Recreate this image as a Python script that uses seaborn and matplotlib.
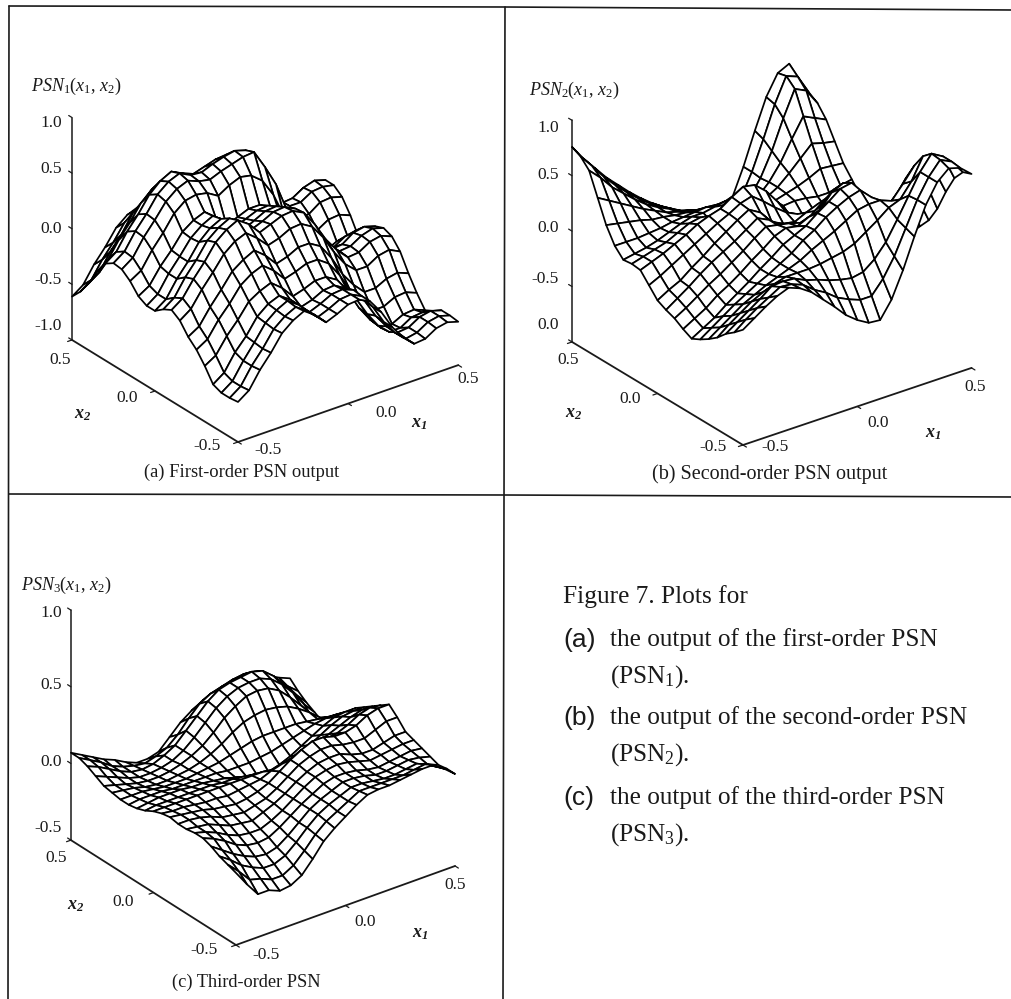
import numpy as np
import seaborn as sns
import matplotlib.pyplot as plt
from mpl_toolkits.mplot3d import proj3d

W, H = 1012, 999

# x1 runs along columns, x2 along rows, both -0.5 .. 0.5
grid = np.linspace(-0.5, 0.5, 21)

psn1 = [
 [-.64,-.57,-.42,-.30,-.16,-.08,-.03,-.10,-.20,-.16,-.11,-.10,-.15,-.28,-.45,-.58,-.67,-.66,-.60,-.58,-.61],
 [-.65,-.58,-.43,-.31,-.17,-.09,-.04,-.11,-.20,-.16,-.11,-.10,-.15,-.28,-.45,-.58,-.67,-.65,-.59,-.57,-.60],
 [-.65,-.58,-.43,-.30,-.16,-.08,-.03,-.10,-.20,-.16,-.11,-.10,-.14,-.27,-.44,-.57,-.66,-.65,-.59,-.57,-.60],
 [-.62,-.55,-.40,-.29,-.15,-.07,-.03,-.10,-.20,-.17,-.12,-.11,-.17,-.30,-.47,-.61,-.70,-.70,-.64,-.63,-.65],
 [-.50,-.44,-.30,-.19,-.06,.00,.04,-.04,-.15,-.12,-.08,-.08,-.14,-.28,-.46,-.60,-.71,-.71,-.66,-.65,-.69],
 [-.40,-.34,-.20,-.09,.04,.11,.15,.07,-.04,-.01,.03,.03,-.04,-.18,-.36,-.50,-.60,-.60,-.55,-.54,-.58],
 [-.33,-.27,-.13,-.01,.12,.19,.24,.16,.05,.08,.13,.13,.07,-.07,-.25,-.38,-.48,-.48,-.43,-.41,-.45],
 [-.23,-.16,-.02,.10,.23,.31,.35,.27,.17,.20,.25,.26,.20,.07,-.10,-.24,-.33,-.33,-.27,-.25,-.30],
 [-.18,-.11,.03,.15,.29,.37,.42,.35,.24,.28,.32,.33,.28,.14,-.03,-.16,-.26,-.25,-.19,-.17,-.21],
 [-.22,-.15,.00,.12,.26,.34,.39,.32,.22,.26,.31,.32,.27,.14,-.03,-.16,-.25,-.24,-.18,-.15,-.18],
 [-.28,-.21,-.06,.06,.20,.29,.34,.27,.17,.22,.27,.28,.23,.10,-.07,-.19,-.28,-.27,-.20,-.18,-.21],
 [-.28,-.21,-.06,.06,.19,.27,.32,.25,.15,.19,.23,.24,.18,.05,-.12,-.25,-.35,-.34,-.28,-.26,-.30],
 [-.24,-.18,-.04,.07,.20,.27,.31,.23,.12,.16,.20,.20,.14,.00,-.18,-.32,-.42,-.42,-.37,-.36,-.40],
 [-.15,-.09,.06,.18,.32,.40,.42,.40,.34,.40,.44,.42,.34,.18,-.05,-.19,-.28,-.28,-.22,-.21,-.25],
 [-.09,-.02,.13,.25,.38,.46,.50,.46,.44,.48,.51,.54,.55,.38,.19,-.08,-.18,-.18,-.11,-.10,-.13],
 [-.08,-.01,.14,.26,.40,.48,.52,.47,.46,.50,.53,.55,.52,.38,.18,-.03,-.12,-.12,-.06,-.05,-.07],
 [-.13,-.06,.09,.21,.35,.44,.49,.44,.40,.43,.46,.47,.42,.28,.08,-.05,-.14,-.13,-.07,-.04,-.07],
 [-.25,-.18,-.03,.09,.23,.32,.37,.30,.20,.24,.29,.30,.25,.12,-.05,-.18,-.26,-.25,-.19,-.17,-.20],
 [-.40,-.33,-.18,-.06,.09,.17,.22,.15,.05,.10,.15,.16,.11,-.02,-.19,-.32,-.41,-.40,-.33,-.31,-.34],
 [-.52,-.45,-.30,-.18,-.04,.04,.09,.02,-.08,-.04,.01,.02,-.03,-.16,-.33,-.46,-.55,-.54,-.48,-.45,-.48],
 [-.61,-.54,-.39,-.27,-.13,-.05,-.01,-.08,-.18,-.14,-.09,-.09,-.14,-.27,-.44,-.58,-.67,-.66,-.60,-.58,-.61],
]

psn2 = [
 [.04,.11,.18,.24,.28,.24,.17,.07,-.03,-.14,-.22,-.28,-.29,-.14,.09,.36,.61,.78,.87,.84,.75],
 [-.03,.05,.12,.18,.24,.23,.19,.11,.05,-.03,-.08,-.12,-.12,.00,.17,.39,.61,.78,.90,.85,.72],
 [-.09,-.02,.05,.12,.20,.21,.20,.15,.12,.08,.05,.03,.05,.13,.25,.42,.60,.78,.91,.85,.62],
 [-.17,-.09,-.02,.05,.10,.14,.17,.17,.17,.18,.20,.22,.26,.33,.40,.48,.52,.65,.84,.68,.45],
 [-.23,-.16,-.09,-.02,.03,.08,.12,.16,.20,.26,.31,.36,.42,.48,.50,.50,.46,.58,.71,.52,.25],
 [-.28,-.21,-.14,-.07,-.01,.05,.10,.16,.22,.30,.36,.44,.50,.55,.58,.48,.30,.35,.55,.34,.10],
 [-.32,-.26,-.20,-.12,-.05,.02,.10,.17,.25,.30,.35,.43,.50,.58,.60,.40,.15,.12,.37,.18,.00],
 [-.28,-.22,-.16,-.08,-.02,.05,.13,.20,.28,.32,.30,.35,.38,.50,.55,.42,.16,.10,.22,.05,-.10],
 [-.23,-.17,-.10,-.03,.03,.10,.17,.25,.32,.30,.28,.25,.22,.35,.45,.40,.25,.10,.05,-.05,-.16],
 [-.20,-.13,-.06,.02,.09,.15,.21,.28,.35,.30,.22,.17,.15,.24,.32,.28,.18,.03,-.06,-.13,-.20],
 [-.16,-.10,-.05,.03,.10,.18,.25,.32,.38,.32,.20,.15,.13,.18,.22,.20,.12,.00,-.10,-.17,-.22],
 [-.07,-.02,.04,.10,.16,.22,.28,.33,.39,.42,.34,.25,.17,.12,.09,.06,.02,-.07,-.15,-.18,-.20],
 [.02,.06,.10,.15,.20,.26,.30,.33,.40,.46,.44,.35,.22,.08,-.04,-.06,-.08,-.10,-.15,-.16,-.15],
 [.03,.06,.09,.12,.17,.22,.24,.16,.28,.34,.32,.22,.10,.00,-.05,-.06,-.06,-.06,-.08,-.07,-.05],
 [.02,.04,.06,.09,.13,.17,.20,.20,.22,.24,.20,.14,.07,.03,.02,.03,.02,.00,.00,.03,.05],
 [.10,.10,.10,.11,.12,.14,.15,.16,.17,.16,.13,.08,.04,.02,.02,.05,.08,.12,.17,.16,.15],
 [.24,.22,.20,.18,.15,.14,.12,.11,.10,.08,.05,.00,-.02,-.02,.00,.06,.15,.25,.35,.32,.30],
 [.44,.38,.32,.26,.20,.15,.10,.07,.05,.02,-.03,-.08,-.10,-.08,-.04,.06,.20,.38,.55,.50,.45],
 [.64,.54,.42,.33,.24,.16,.10,.05,.00,-.06,-.13,-.18,-.20,-.17,-.10,.05,.26,.52,.75,.70,.55],
 [.72,.60,.47,.36,.26,.17,.09,.03,-.03,-.12,-.20,-.25,-.27,-.23,-.15,.06,.32,.60,.82,.78,.60],
 [.76,.62,.50,.38,.28,.18,.09,.01,-.06,-.17,-.26,-.32,-.33,-.28,-.19,.06,.35,.62,.80,.85,.58],
]

psn3 = [
 [-.03,-.13,-.22,-.22,-.25,-.24,-.20,-.12,-.03,.03,.08,.13,.17,.18,.18,.19,.20,.21,.21,.16,.10],
 [-.01,-.08,-.16,-.18,-.21,-.21,-.17,-.10,-.02,.04,.08,.12,.16,.16,.16,.16,.16,.17,.18,.14,.10],
 [.01,-.04,-.10,-.14,-.17,-.17,-.14,-.08,-.01,.05,.09,.12,.15,.15,.14,.13,.13,.14,.15,.12,.09],
 [.04,-.01,-.06,-.10,-.13,-.14,-.12,-.07,-.01,.05,.09,.12,.15,.15,.14,.12,.12,.13,.14,.13,.11],
 [.06,.03,-.01,-.06,-.09,-.10,-.09,-.05,.00,.05,.09,.13,.15,.15,.14,.12,.11,.12,.13,.14,.13],
 [.06,.04,.01,-.03,-.06,-.07,-.07,-.04,.00,.05,.10,.14,.16,.17,.16,.14,.12,.13,.14,.15,.15],
 [.05,.04,.03,.00,-.03,-.04,-.05,-.02,.01,.05,.10,.14,.17,.18,.18,.15,.13,.13,.15,.17,.17],
 [.05,.05,.04,.02,-.01,-.02,-.03,-.01,.01,.05,.10,.15,.18,.20,.20,.18,.17,.17,.20,.23,.23],
 [.06,.05,.04,.03,.01,.00,-.01,.00,.02,.05,.10,.15,.19,.22,.22,.20,.20,.22,.26,.28,.28],
 [.05,.04,.04,.03,.02,.02,.01,.02,.03,.04,.07,.09,.11,.13,.14,.15,.16,.19,.23,.25,.24],
 [.03,.03,.03,.03,.03,.03,.03,.03,.03,.03,.03,.02,.02,.03,.05,.09,.12,.15,.18,.20,.20],
 [.00,.01,.01,.01,.01,.01,.01,.00,.00,-.01,-.02,-.04,-.04,-.03,.00,.04,.08,.12,.15,.16,.16],
 [-.02,-.01,.00,.00,.00,-.01,-.01,-.02,-.03,-.05,-.07,-.09,-.09,-.07,-.04,.00,.04,.08,.11,.12,.12],
 [-.03,-.02,-.02,-.02,-.03,-.03,-.03,-.03,-.03,-.04,-.04,-.04,-.03,-.02,.00,.02,.04,.06,.07,.07,.06],
 [-.03,-.03,-.03,-.04,-.05,-.05,-.05,-.04,-.03,-.02,.00,.02,.04,.05,.05,.05,.05,.04,.03,.02,.00],
 [-.02,-.03,-.04,-.06,-.07,-.07,-.06,-.05,-.03,.00,.04,.09,.13,.15,.16,.15,.13,.09,.04,-.02,-.06],
 [-.01,-.03,-.05,-.07,-.08,-.08,-.07,-.05,-.02,.02,.08,.15,.20,.24,.25,.24,.20,.13,.05,-.05,-.11],
 [.02,-.01,-.04,-.07,-.09,-.09,-.08,-.06,-.02,.04,.11,.18,.23,.26,.27,.27,.24,.18,.10,.00,-.08],
 [.05,.02,-.02,-.06,-.09,-.10,-.09,-.06,-.02,.05,.12,.19,.24,.26,.27,.28,.26,.20,.12,.03,-.05],
 [.07,.03,-.01,-.06,-.09,-.11,-.12,-.10,-.07,-.01,.07,.14,.18,.20,.22,.23,.22,.18,.12,.05,-.01],
 [.07,.03,-.01,-.05,-.08,-.12,-.15,-.15,-.13,-.06,.01,.06,.10,.12,.14,.15,.16,.14,.11,.07,.04],
]

z_ticks_a = [1.0, 0.5, 0.0, -0.5, -1.0]
z_labels_a = ["1.0", "0.5", "0.0", "-0.5", "-1.0"]
# the original really prints 0.0 at the bottom of panel b
z_labels_b = ["1.0", "0.5", "0.0", "-0.5", "0.0"]
z_ticks_c = [1.0, 0.5, 0.0, -0.5]
z_labels_c = ["1.0", "0.5", "0.0", "-0.5"]
captions = ["(a) First-order PSN output", "(b) Second-order PSN output", "(c) Third-order PSN"]

sns.set_theme(style="white")
plt.rcParams["font.family"] = ["Liberation Serif", "DejaVu Serif"]
plt.rcParams["mathtext.fontset"] = "custom"
plt.rcParams["mathtext.rm"] = "Liberation Serif"
plt.rcParams["mathtext.it"] = "Liberation Serif:italic"
plt.rcParams["mathtext.bf"] = "Liberation Serif:bold:italic"

fig = plt.figure(figsize=(W / 100, H / 100), dpi=100, facecolor="white")
page = fig.add_axes([0, 0, 1, 1])
page.set_xlim(0, W)
page.set_ylim(H, 0)
page.axis("off")


def surface(z, zrange, ticks, elev, azim, zaspect, front, left):
    ax = fig.add_axes([0.1, 0.1, 0.4, 0.4 * W / H], projection="3d", proj_type="ortho", computed_zorder=False)
    ax.view_init(elev, azim)
    ax.set_box_aspect((1, 1, zaspect))
    ax.set_xlim(-0.5, 0.5)
    ax.set_ylim(-0.5, 0.5)
    ax.set_zlim(*zrange)
    ax.set_axis_off()
    ax.patch.set_visible(False)

    z0, z1 = zrange
    ax.plot([-.5, -.5], [.5, .5], [z0, z1], color="k", lw=1.1, zorder=1)
    ax.plot([-.5, -.5], [-.5, .5], [z0, z0], color="k", lw=1.3, zorder=1)
    ax.plot([-.5, .5], [-.5, -.5], [z0, z0], color="k", lw=1.3, zorder=1)
    for t in ticks:
        ax.plot([-.5, -.5], [.5, .52], [t, t], color="k", lw=0.9, zorder=1)
    for t in [-.5, 0, .5]:
        ax.plot([-.5, -.52], [t, t], [z0, z0], color="k", lw=0.9, zorder=1)
        ax.plot([t, t], [-.5, -.52], [z0, z0], color="k", lw=0.9, zorder=1)

    X, Y = np.meshgrid(grid, grid)
    ax.plot_surface(X, Y, np.array(z), rstride=1, cstride=1, color="white", edgecolor="black",
                    linewidth=1.25, shade=False, antialiased=True, zorder=2)

    # move the box so the base corners land where they are on the page
    fig.canvas.draw()
    M = ax.get_proj()

    def disp(p):
        x, y, _ = proj3d.proj_transform(p[0], p[1], p[2], M)
        return ax.transData.transform((x, y))

    pf = disp((-.5, -.5, z0))
    pl = disp((-.5, .5, z0))
    bb = ax.get_window_extent()
    tf = np.array([front[0], H - front[1]])
    tl = np.array([left[0], H - left[1]])
    s = np.linalg.norm(tf - tl) / np.linalg.norm(pf - pl)
    rel = (pf - [bb.x0, bb.y0]) * s
    x0, y0 = tf - rel
    ax.set_position([x0 / W, y0 / H, bb.width * s / W, bb.height * s / H])
    return ax


surface(psn1, (-1, 1), z_ticks_a, 27.6, -127, 0.91, (238, 442), (72, 340))
surface(psn2, (-1, 1), z_ticks_a, 26.8, -126.8, 0.87, (743, 445), (572, 342))
surface(psn3, (-.5, 1), z_ticks_c, 28.6, -127, 0.955, (236, 945), (71, 840))

# table rules of the scanned page
page.plot([9, 505, 1012], [6, 7, 10], color="k", lw=1.2)
page.plot([9, 505, 1012], [494, 495, 497], color="k", lw=1.2)
page.plot([9, 8], [6, 999], color="k", lw=1.2)
page.plot([505, 503], [7, 999], color="k", lw=1.2)


def txt(x, y, s, size=12.5, ha="center"):
    page.text(x, y, s, fontsize=size, ha=ha, va="center", color="k")


txt(31, 86, r"$PSN_{1}(x_{1},\,x_{2})$", 13, "left")
txt(529, 90, r"$PSN_{2}(x_{1},\,x_{2})$", 13, "left")
txt(21, 585, r"$PSN_{3}(x_{1},\,x_{2})$", 13, "left")

for y, s in zip([123, 169, 229, 280, 326], z_labels_a):
    txt(62, y, s, ha="right")
for y, s in zip([128, 175, 228, 279, 325], z_labels_b):
    txt(559, y, s, ha="right")
for y, s in zip([613, 685, 762, 828], z_labels_c):
    txt(62, y, s, ha="right")

for x, y, s in [(60, 360, "0.5"), (127, 398, "0.0"), (207, 446, "-0.5"), (268, 450, "-0.5"), (386, 413, "0.0"), (468, 379, "0.5"),
                (568, 360, "0.5"), (630, 399, "0.0"), (713, 447, "-0.5"), (775, 447, "-0.5"), (878, 423, "0.0"), (975, 387, "0.5"),
                (56, 858, "0.5"), (123, 902, "0.0"), (204, 950, "-0.5"), (266, 955, "-0.5"), (365, 922, "0.0"), (455, 885, "0.5")]:
    txt(x, y, s)

for x, y in [(83, 415), (574, 414), (76, 905)]:
    txt(x, y, r"$\mathbf{x}_{\mathbf{2}}$", 13)
for x, y in [(419, 424), (933, 434), (420, 933)]:
    txt(x, y, r"$\mathbf{x}_{\mathbf{1}}$", 13)

txt(242, 472, captions[0], 13.3)
txt(770, 474, captions[1], 14.5)
txt(246, 982, captions[2], 13.2)

txt(563, 597, "Figure 7. Plots for", 18.3, "left")
for y, s in [(640, "(a)"), (718, "(b)"), (798, "(c)")]:
    page.text(563, y, s, fontsize=19, family="Liberation Sans", ha="left", va="center", color="k")
for y, s in [(640, "the output of the first-order PSN"), (677, r"(PSN$_{1}$)."),
             (718, "the output of the second-order PSN"), (755, r"(PSN$_{2}$)."),
             (798, "the output of the third-order PSN"), (835, r"(PSN$_{3}$).")]:
    txt(610, y, s, 18.2, "left")

fig.savefig("out.png", dpi=100)
